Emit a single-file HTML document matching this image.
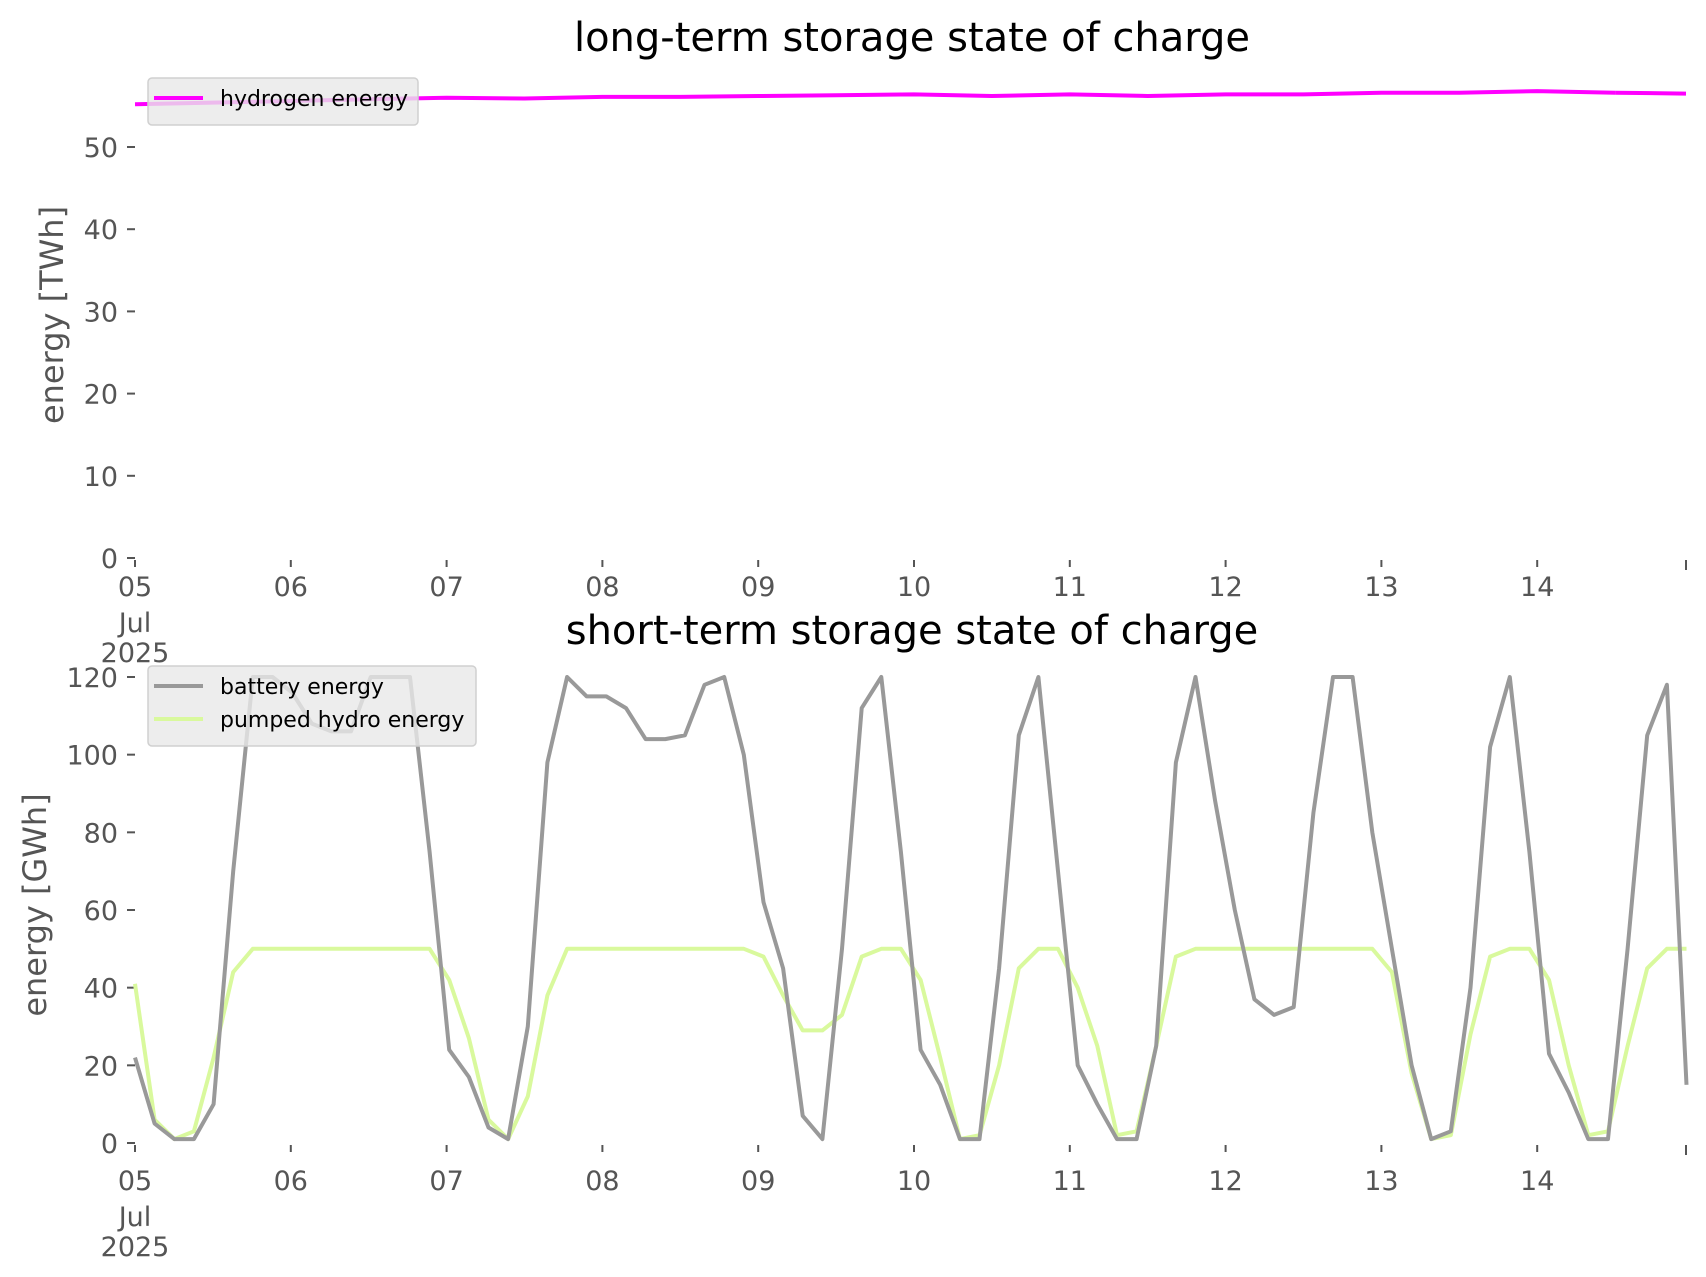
<!DOCTYPE html>
<html><head><meta charset="utf-8">
<style>
html,body{margin:0;padding:0;background:#fff;}
svg{display:block;font-family:"DejaVu Sans","Liberation Sans",sans-serif;}
</style></head>
<body>
<svg id="chart" width="1706" height="1277" viewBox="0 0 1706 1277" xmlns="http://www.w3.org/2000/svg">
<rect width="1706" height="1277" fill="#fff"/>
<text x="912" y="51" font-size="40" text-anchor="middle" fill="#000">long-term storage state of charge</text>
<text x="912" y="644" font-size="40" text-anchor="middle" fill="#000">short-term storage state of charge</text>
<text transform="translate(63,315) rotate(-90)" font-size="32" text-anchor="middle" fill="#555">energy [TWh]</text>
<text transform="translate(46,905) rotate(-90)" font-size="32" text-anchor="middle" fill="#555">energy [GWh]</text>
<g id="top"></g>
<g id="bottom"></g>
</svg>
<script>
// ---- data ----
const dayLabels = ["05","06","07","08","09","10","11","12","13","14"];
const topTicks = [0,10,20,30,40,50];
const bottomTicks = [0,20,40,60,80,100,120];
const hydrogenStepHours = 12;
const hydrogenTWh = [55.2,55.4,55.6,55.8,56.0,55.9,56.1,56.1,56.2,56.3,56.4,56.2,56.4,56.2,56.4,56.4,56.6,56.6,56.8,56.6];
const shortStepHours = 239/79;
const batteryGWh = [
22,5,1,1,10,70,120,120,
116,108,106,106,120,120,120,75,
24,17,4,1,30,98,120,115,
115,112,104,104,105,118,120,100,
62,45,7,1,50,112,120,75,
24,15,1,1,45,105,120,70,
20,10,1,1,25,98,120,88,
60,37,33,35,85,120,120,80,
50,20,1,3,40,102,120,75,
23,13,1,1,50,105,118,15];
const pumpedHydroGWh = [
41,6,1,3,22,44,50,50,
50,50,50,50,50,50,50,50,
42,27,6,1,12,38,50,50,
50,50,50,50,50,50,50,50,
48,38,29,29,33,48,50,50,
42,22,1,2,20,45,50,50,
40,25,2,3,25,48,50,50,
50,50,50,50,50,50,50,50,
44,18,1,2,28,48,50,50,
42,20,2,3,25,45,50,50];

// ---- geometry ----
const NS="http://www.w3.org/2000/svg";
const X0=135, PX_PER_DAY=155.8, XEND=1686;
function xScale(h){return X0+h/24*PX_PER_DAY;}
function mk(tag,attrs,parent){const e=document.createElementNS(NS,tag);for(const k in attrs)e.setAttribute(k,attrs[k]);parent.appendChild(e);return e;}
function yTop(v){return 558-(v/50)*(558-147);}
function yBot(v){return 1143-(v/120)*(1143-677);}

function axes(g,yf,ticks,xLabelY,prefix){
  ticks.forEach(t=>{
    const y=yf(t);
    const l=mk('line',{x1:127,x2:135,y1:y,y2:y,stroke:'#555','stroke-width':2},g);
    
    
    const tx=mk('text',{x:118,y:y+10,'font-size':27,'text-anchor':'end',fill:'#555'},g);
    tx.textContent=t;
    
    
  });
  const yb=yf(0);
  dayLabels.forEach((d,i)=>{
    const x=xScale(i*24);
    const l=mk('line',{x1:x,x2:x,y1:yb+2,y2:yb+9,stroke:'#555','stroke-width':2},g);
    
    
    const tx=mk('text',{x:x,y:xLabelY,'font-size':27,'text-anchor':'middle',fill:'#555'},g);
    tx.textContent=d;
    
    
  });
  const le=mk('line',{x1:XEND,x2:XEND,y1:yb+2,y2:yb+12,stroke:'#555','stroke-width':2},g);
  
  
  [['Jul',36],['2025',66]].forEach(([s,dy])=>{
    const tx=mk('text',{x:X0,y:xLabelY+dy,'font-size':27,'text-anchor':'middle',fill:'#555'},g);
    tx.textContent=s;
    
    
  });
}
function line(g,vals,step,yf,color,w,name){
  let d='';
  vals.forEach((v,i)=>{d+=(i?'L':'M')+xScale(i*step).toFixed(1)+','+yf(v).toFixed(1);});
  const p=mk('path',{d:d,fill:'none',stroke:color,'stroke-width':w,'stroke-linejoin':'round'},g);
  
  
}
function legend(g,x,y,w,entries,prefix){
  const h=14+entries.length*33;
  const r=mk('rect',{x:x,y:y,width:w,height:h,rx:4,fill:'#e8e8e8','fill-opacity':0.8,stroke:'#d0d0d0','stroke-width':1.5},g);
  
  
  entries.forEach(([label,color],i)=>{
    const cy=y+20+i*33;
    const l=mk('line',{x1:x+6,x2:x+55,y1:cy,y2:cy,stroke:color,'stroke-width':4},g);
    
    
    const t=mk('text',{x:x+72,y:cy+8,'font-size':22,fill:'#000'},g);
    t.textContent=label;
    
    
  });
}
const gt=document.getElementById('top'), gb=document.getElementById('bottom');
axes(gt,yTop,topTicks,596,'top');
line(gt,hydrogenTWh,hydrogenStepHours,yTop,'#ff00ff',4,'hydrogen-energy-line');
(function(){const last=hydrogenTWh[hydrogenTWh.length-1];const p=mk('path',{d:'M'+xScale((hydrogenTWh.length-1)*hydrogenStepHours)+','+yTop(last)+'L'+XEND+','+yTop(56.5),fill:'none',stroke:'#ff00ff','stroke-width':4},gt);})();
legend(gt,148,78,270,[['hydrogen energy','#ff00ff']],'top');
axes(gb,yBot,bottomTicks,1190,'bottom');
line(gb,pumpedHydroGWh,shortStepHours,yBot,'#d9f99d',4,'pumped-hydro-energy-line');
line(gb,batteryGWh,shortStepHours,yBot,'#999999',4,'battery-energy-line');
legend(gb,148,666,328,[['battery energy','#999999'],['pumped hydro energy','#d9f99d']],'bottom');
</script>
</body></html>
